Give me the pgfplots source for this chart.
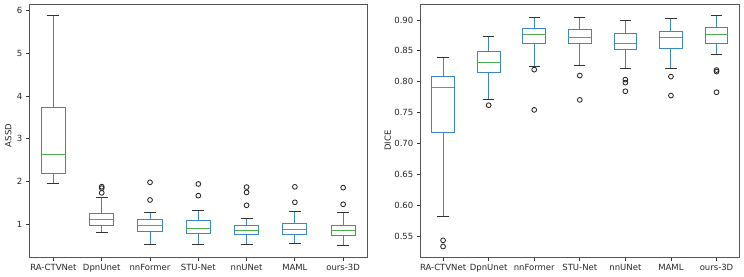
\documentclass[border=0pt]{standalone}
\usepackage{fontspec}
\setmainfont{DejaVu Sans}
\usepackage{pgfplots}
\pgfplotsset{compat=1.18}
\usepgfplotslibrary{statistics}
\definecolor{mblue}{HTML}{3A87C4}
\definecolor{mgreen}{HTML}{4CB04C}
\definecolor{spine}{HTML}{555555}
\pgfplotsset{
  boxplot/draw/whisker/.code 2 args={
    \draw[/pgfplots/boxplot/every whisker/.try] (boxplot cs:#1) -- (boxplot cs:#2);
    \draw[black!80, line width=0.9pt] (boxplot whisker cs:#2,0) -- (boxplot whisker cs:#2,1);
  },
}
\pgfplotsset{
 mybox/.style={
  scale only axis, tick pos=left, tick align=outside, major tick length=3.5pt,
  axis line style={spine, line width=0.8pt},
  tick style={black!80, line width=0.8pt},
  xmin=0.5, xmax=7.5, xtick={1,...,7},
  xticklabels={RA-CTVNet,DpnUnet,nnFormer,STU-Net,nnUNet,MAML,ours-3D},
  /pgf/number format/assume math mode=true,
  ticklabel style={font=\fontsize{8.5}{10}\selectfont, text=black!85},
  label style={font=\fontsize{8.5}{10}\selectfont, text=black!85},
  boxplot/draw direction=y,
  boxplot/box extend=0.5,
  boxplot/whisker extend=0.25,
  boxplot/every box/.style={draw=mblue, line width=0.9pt},
  boxplot/every whisker/.style={draw=mblue, line width=0.9pt},
  boxplot/every median/.style={draw=mgreen, line width=0.9pt},
 },
 fl/.style={draw=mblue, mark=o, mark size=2.4pt, mark options={draw=black!85, line width=0.85pt, solid}},
}
\begin{document}
\begin{tikzpicture}
\path[use as bounding box] (0,0) rectangle (744pt,276pt);
\begin{axis}[mybox, at={(29.3pt,19pt)}, anchor=south west,
  width=338pt, height=253pt,
  ymin=0.226, ymax=6.157, ytick={1,...,6},
  ylabel={ASSD},
  ylabel style={at={(axis description cs:-0.062,0.48)}, anchor=center},
]
\addplot[fl, boxplot prepared={draw position=1, lower whisker=1.954, lower quartile=2.19, median=2.63, upper quartile=3.73, upper whisker=5.90}] coordinates {};
\addplot[fl, boxplot prepared={draw position=2, lower whisker=0.805, lower quartile=0.977, median=1.117, upper quartile=1.24, upper whisker=1.633}] coordinates {(2,1.875) (2,1.84) (2,1.73)};
\addplot[fl, boxplot prepared={draw position=3, lower whisker=0.531, lower quartile=0.836, median=0.961, upper quartile=1.117, upper whisker=1.273}] coordinates {(3,1.977) (3,1.563)};
\addplot[fl, boxplot prepared={draw position=4, lower whisker=0.531, lower quartile=0.773, median=0.898, upper quartile=1.094, upper whisker=1.328}] coordinates {(4,1.938) (4,1.664)};
\addplot[fl, boxplot prepared={draw position=5, lower whisker=0.516, lower quartile=0.758, median=0.859, upper quartile=0.961, upper whisker=1.14}] coordinates {(5,1.865) (5,1.74) (5,1.438)};
\addplot[fl, boxplot prepared={draw position=6, lower whisker=0.547, lower quartile=0.758, median=0.883, upper quartile=1.008, upper whisker=1.297}] coordinates {(6,1.87) (6,1.508)};
\addplot[fl, boxplot prepared={draw position=7, lower whisker=0.492, lower quartile=0.734, median=0.852, upper quartile=0.961, upper whisker=1.281}] coordinates {(7,1.852) (7,1.461)};
\end{axis}
\begin{axis}[mybox, at={(420.3pt,19pt)}, anchor=south west,
  width=319pt, height=253pt,
  ymin=0.516, ymax=0.926, ytick={0.55,0.60,...,0.90},
  yticklabel style={/pgf/number format/.cd, fixed, fixed zerofill, precision=2},
  ylabel={DICE},
  ylabel style={at={(axis description cs:-0.102,0.46)}, anchor=center},
]
\addplot[fl, boxplot prepared={draw position=1, lower whisker=0.5823, lower quartile=0.7177, median=0.7905, upper quartile=0.8088, upper whisker=0.840}] coordinates {(1,0.543) (1,0.533)};
\addplot[fl, boxplot prepared={draw position=2, lower whisker=0.7706, lower quartile=0.8148, median=0.8315, upper quartile=0.8498, upper whisker=0.873}] coordinates {(2,0.762)};
\addplot[fl, boxplot prepared={draw position=3, lower whisker=0.8245, lower quartile=0.8617, median=0.8773, upper quartile=0.887, upper whisker=0.9043}] coordinates {(3,0.8196) (3,0.7544)};
\addplot[fl, boxplot prepared={draw position=4, lower whisker=0.8272, lower quartile=0.8622, median=0.8725, upper quartile=0.8854, upper whisker=0.904}] coordinates {(4,0.810) (4,0.7706)};
\addplot[fl, boxplot prepared={draw position=5, lower whisker=0.8223, lower quartile=0.852, median=0.8622, upper quartile=0.8784, upper whisker=0.8995}] coordinates {(5,0.8035) (5,0.7986) (5,0.7846)};
\addplot[fl, boxplot prepared={draw position=6, lower whisker=0.8223, lower quartile=0.8536, median=0.8725, upper quartile=0.8811, upper whisker=0.9032}] coordinates {(6,0.8083) (6,0.7776)};
\addplot[fl, boxplot prepared={draw position=7, lower whisker=0.8439, lower quartile=0.8617, median=0.8773, upper quartile=0.8887, upper whisker=0.9081}] coordinates {(7,0.819) (7,0.8164) (7,0.783)};
\end{axis}
\end{tikzpicture}
\end{document}
